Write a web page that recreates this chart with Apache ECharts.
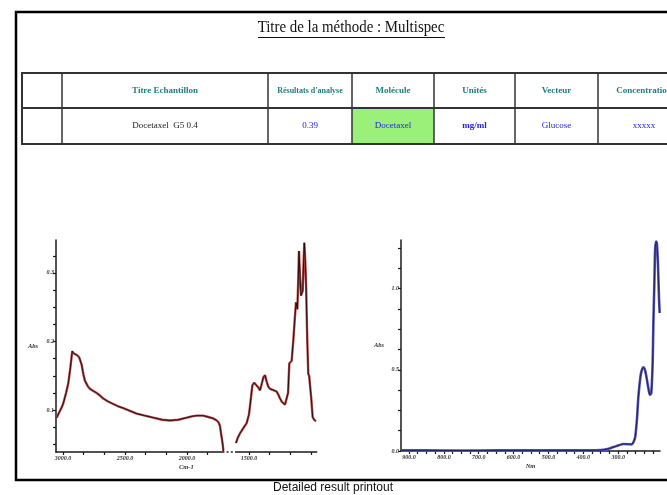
<!DOCTYPE html>
<html><head><meta charset="utf-8">
<script src="https://cdn.jsdelivr.net/npm/echarts@6/dist/echarts.min.js"></script>
<style>html,body{margin:0;padding:0;background:#fff;}#c{width:667px;height:495px;}</style>
</head><body><div id="c"></div>
<script>
// ---------- data ----------
const pageTitle = 'Titre de la méthode : Multispec';
const caption = 'Detailed result printout';
const tableHeaders = ['', 'Titre Echantillon', "Résultats d'analyse", 'Molécule', 'Unités', 'Vecteur', 'Concentration'];
const tableValues = ['', 'Docetaxel  G5 0.4', '0.39', 'Docetaxel', 'mg/ml', 'Glucose', 'xxxxx'];

// IR spectrum (Cm-1 vs Abs); null = gap in the recorded spectrum
const irWavenumber = [3051,3030,3010,2997,2975,2957,2940,2925,2915,2903,2885,2869,2849,2835,2823,2800,2782,2755,2728,2700,2675,2640,2607,2560,2514,2460,2406,2340,2272,2200,2137,2070,2002,1960,1922,1870,1828,1790,1760,1745,1734,1727,1720,1712,1706,
  1656,
  1605,1590,1573,1545,1519,1500,1492,1480,1473,1458,1444,1425,1411,1395,1384,1371,1358,1344,1330,1317,1300,1277,1262,1250,1235,1223,1210,1196,1185,1175,1165,1156,1143,1130,1121,1110,1103,1097,1090,1081,1074,1067,1060,1054,1047,1040,1030,1022,1015,1008,997,987,975,960];
const irAbs = [0.089,0.097,0.104,0.110,0.125,0.139,0.162,0.186,0.183,0.181,0.180,0.177,0.166,0.152,0.143,0.135,0.131,0.128,0.125,0.121,0.117,0.113,0.110,0.106,0.103,0.099,0.095,0.092,0.089,0.086,0.085,0.086,0.089,0.091,0.092,0.092,0.090,0.088,0.085,0.082,0.077,0.068,0.060,0.050,0.040,
  null,
  0.052,0.060,0.066,0.074,0.081,0.094,0.106,0.125,0.136,0.140,0.140,0.133,0.129,0.140,0.148,0.151,0.142,0.134,0.131,0.130,0.129,0.127,0.122,0.117,0.112,0.110,0.108,0.107,0.125,0.168,0.170,0.172,0.201,0.235,0.257,0.247,0.290,0.332,0.300,0.267,0.268,0.274,0.315,0.344,0.320,0.284,0.200,0.153,0.150,0.148,0.115,0.090,0.086,0.084];
const irXTickLabels = [3000, 2500, 2000, 1500];
const irYTickLabels = [0.1, 0.2, 0.3];

// UV spectrum (Nm vs Abs)
const uvWavelength = [923,850,750,650,550,450,380,350,335,323,304,285,270,261,255,251,246,242,236,232,228,224,220,216,212,209,205,201,199,196,194,191,189,186,183,181];
const uvAbs = [0.004,0.004,0.003,0.004,0.004,0.004,0.004,0.006,0.010,0.017,0.031,0.043,0.042,0.041,0.060,0.088,0.200,0.335,0.460,0.500,0.515,0.505,0.470,0.420,0.370,0.346,0.356,0.550,0.788,1.050,1.240,1.290,1.280,1.160,0.950,0.850];
const uvXTickLabels = [900, 800, 700, 600, 500, 400, 300];
const uvYTickLabels = [0.0, 0.5, 1.0];

// ---------- helpers ----------
function subdivide(labels, parts, lo, hi) {
  const step = (labels[1] - labels[0]) / parts;
  const out = [];
  for (let v = labels[0]; (step > 0 ? v <= hi + 1e-9 : v >= lo - 1e-9); v += step) out.push(+v.toFixed(6));
  for (let v = labels[0] - step; (step > 0 ? v >= lo - 1e-9 : v <= hi + 1e-9); v -= step) out.push(+v.toFixed(6));
  return out.filter(v => v >= lo - 1e-9 && v <= hi + 1e-9);
}
const pair = (xs, ys) => xs.map((x, i) => [x, ys[i] === null ? '-' : ys[i]]);

const axisFont = {fontFamily: 'Liberation Serif', fontStyle: 'italic', fontWeight: 'bold', fontSize: 6, color: '#333'};
const axisLine = {show: true, lineStyle: {color: '#1a1a1a', width: 1.5}};

function xAxisDef(idx, min, max, labels, parts, name) {
  return {
    type: 'value', gridIndex: idx, inverse: true, min, max,
    axisLine, splitLine: {show: false},
    axisTick: {show: true, length: 3, customValues: subdivide(labels, parts, min, max), lineStyle: {color: '#1a1a1a', width: 1.2}},
    axisLabel: {customValues: labels, formatter: v => v.toFixed(1), margin: 3, ...axisFont},
    name, nameLocation: 'middle', nameGap: 12, nameTextStyle: {...axisFont, fontSize: 6.5}
  };
}
function yAxisDef(idx, min, max, labels, parts, gap) {
  return {
    type: 'value', gridIndex: idx, min, max,
    axisLine, splitLine: {show: false},
    axisTick: {show: true, length: 3, customValues: subdivide(labels, parts, min, max), lineStyle: {color: '#1a1a1a', width: 1.2}},
    axisLabel: {customValues: labels, formatter: v => v.toFixed(1), margin: 2, ...axisFont},
    name: 'Abs', nameLocation: 'middle', nameRotate: 0, nameGap: gap, nameTextStyle: {...axisFont, fontSize: 6.5}
  };
}

const chart = echarts.init(document.getElementById('c'), null, {renderer: 'canvas'});
const irData = pair(irWavenumber, irAbs);
const uvData = pair(uvWavelength, uvAbs);

chart.setOption({
  animation: false,
  backgroundColor: '#ffffff',
  grid: [
    {left: 56, top: 240, width: 260.6, height: 212},
    {left: 401, top: 240, width: 259, height: 211}
  ],
  xAxis: [
    xAxisDef(0, 955, 3056, irXTickLabels, 3, 'Cm-1'),
    xAxisDef(1, 180, 923, uvXTickLabels, 4, 'Nm')
  ],
  yAxis: [
    yAxisDef(0, 0.039, 0.348, irYTickLabels, 4, 18),
    yAxisDef(1, 0, 1.30, uvYTickLabels, 4, 17)
  ],
  series: [
    {type: 'line', xAxisIndex: 0, yAxisIndex: 0, data: irData, showSymbol: false, silent: true, lineStyle: {color: '#b24a4a', width: 2.4}},
    {type: 'line', xAxisIndex: 0, yAxisIndex: 0, data: irData, showSymbol: false, silent: true, lineStyle: {color: '#1e0808', width: 0.9}},
    {type: 'line', xAxisIndex: 1, yAxisIndex: 1, data: uvData, showSymbol: false, silent: true, smooth: 0.2, lineStyle: {color: '#5454b8', width: 2.6}},
    {type: 'line', xAxisIndex: 1, yAxisIndex: 1, data: uvData, showSymbol: false, silent: true, smooth: 0.2, lineStyle: {color: '#14143a', width: 0.8}}
  ]
});

// ---------- page decoration: frame, title, table, caption ----------
const colEdges = [22, 62, 268, 352, 434, 515, 598, 690];
const rowEdges = [73, 108, 144];
const g = [];
g.push({type: 'polyline', shape: {points: [[670, 12], [16, 12], [16, 480], [670, 480]]}, style: {stroke: '#000', lineWidth: 2.5, fill: null}, z: 10});
g.push({type: 'text', x: 351, y: 28, scaleX: 0.93, style: {text: pageTitle, x: 0, y: 0, textAlign: 'center', textVerticalAlign: 'middle', font: '16px "Liberation Serif"', fill: '#111'}, z: 10});
g.push({type: 'line', shape: {x1: 258, y1: 37.5, x2: 445, y2: 37.5}, style: {stroke: '#111', lineWidth: 1}, z: 10});
// highlighted cell
g.push({type: 'rect', shape: {x: colEdges[3], y: rowEdges[1], width: colEdges[4] - colEdges[3], height: rowEdges[2] - rowEdges[1]}, style: {fill: '#9bf07a'}, z: 9});
rowEdges.forEach(y => g.push({type: 'line', shape: {x1: colEdges[0] - 1, y1: y, x2: 670, y2: y}, style: {stroke: '#333', lineWidth: 2}, z: 10}));
colEdges.slice(0, 7).forEach(x => g.push({type: 'line', shape: {x1: x, y1: rowEdges[0], x2: x, y2: rowEdges[2]}, style: {stroke: '#333', lineWidth: x === colEdges[0] ? 2 : 1.5}, z: 10}));
tableHeaders.forEach((t, i) => {
  if (!t) return;
  const cx = (colEdges[i] + colEdges[i + 1]) / 2;
  const fs = i === 2 ? 8 : 9;
  g.push({type: 'text', style: {text: t, x: cx, y: (rowEdges[0] + rowEdges[1]) / 2, textAlign: 'center', textVerticalAlign: 'middle', font: 'bold ' + fs + 'px "Liberation Serif"', fill: '#1f7f7f'}, z: 11});
});
tableValues.forEach((t, i) => {
  if (!t) return;
  const cx = (colEdges[i] + colEdges[i + 1]) / 2;
  const color = i === 1 ? '#222' : '#2323e0';
  const weight = i === 4 ? 'bold ' : '';
  g.push({type: 'text', style: {text: t, x: cx, y: (rowEdges[1] + rowEdges[2]) / 2, textAlign: 'center', textVerticalAlign: 'middle', font: weight + '9px "Liberation Serif"', fill: color}, z: 11});
});
g.push({type: 'text', style: {text: caption, x: 333, y: 488, textAlign: 'center', textVerticalAlign: 'middle', font: '12px "Liberation Sans"', fill: '#111'}, z: 10});

// gap in the IR axis line, placed from the data gap
const gi = irAbs.indexOf(null);
const gx1 = chart.convertToPixel({xAxisIndex: 0}, irWavenumber[gi - 1]);
const gx2 = chart.convertToPixel({xAxisIndex: 0}, irWavenumber[gi + 1]);
const axY = chart.convertToPixel({yAxisIndex: 0}, 0.039);
g.push({type: 'rect', shape: {x: gx1 + 1, y: axY - 2, width: gx2 - gx1 - 2, height: 6}, style: {fill: '#fff'}, z: 12});
const third = (gx2 - gx1) / 3;
[gx1 + third, gx1 + 2 * third].forEach(x => g.push({type: 'line', shape: {x1: x - 1, y1: axY, x2: x + 1, y2: axY}, style: {stroke: '#222', lineWidth: 1.5}, z: 13}));

chart.setOption({graphic: {elements: g}});
</script></body></html>
